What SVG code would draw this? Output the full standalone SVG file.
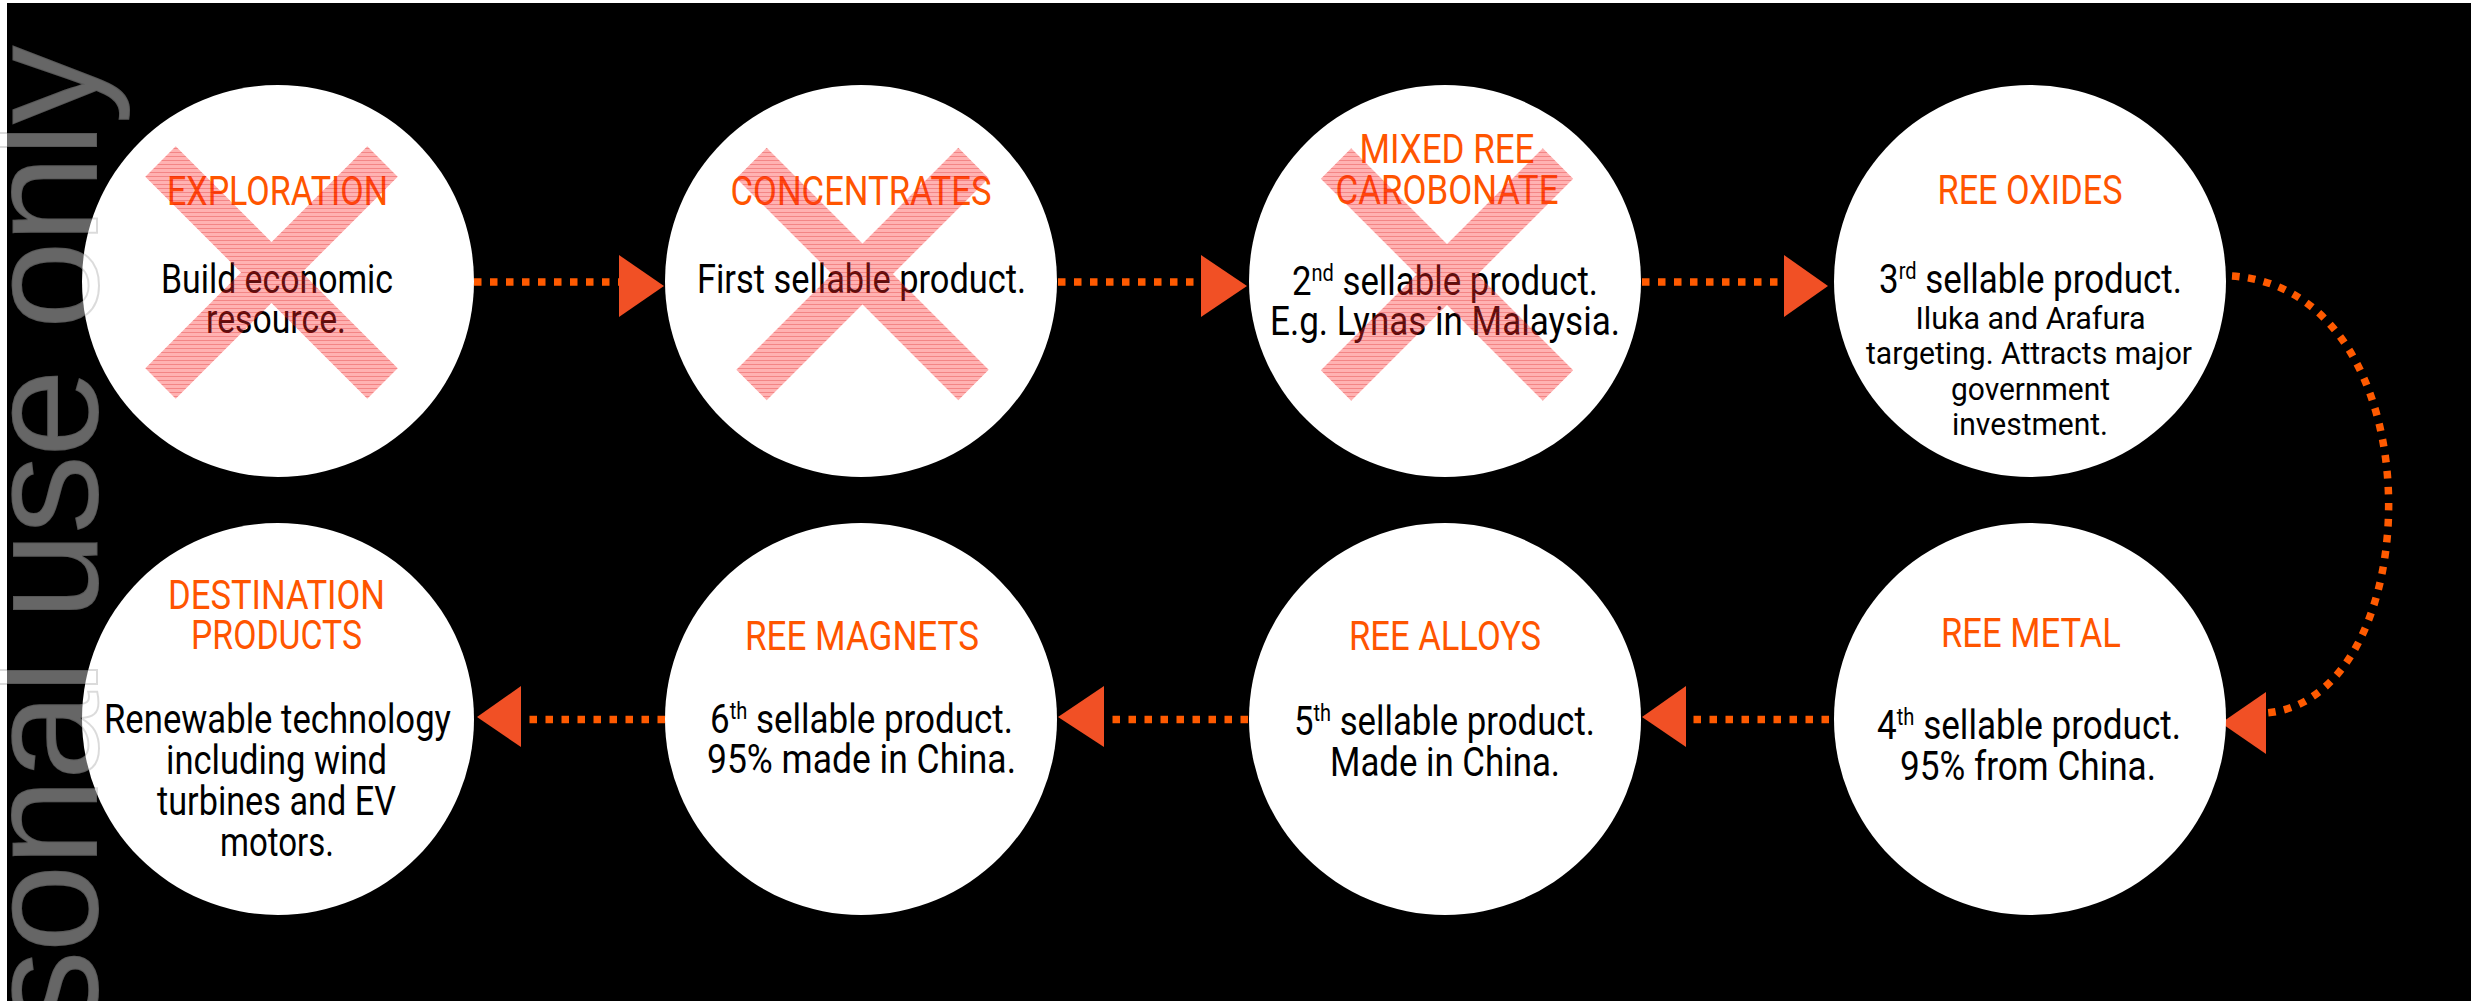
<svg xmlns="http://www.w3.org/2000/svg" width="2471" height="1001" viewBox="0 0 2471 1001">
<style>
.c{fill:#fff}
.t{font-family:Roboto,"Liberation Sans",sans-serif;font-weight:400;font-size:41px;fill:#FF5500;text-anchor:middle}
.b{font-family:Roboto,"Liberation Sans",sans-serif;font-weight:400;font-size:40px;fill:#000;text-anchor:middle}
.s{font-family:Roboto,"Liberation Sans",sans-serif;font-weight:400;font-size:32px;fill:#000;text-anchor:middle}
.sup{font-size:23px}
.x{fill:none;stroke:url(#hatch);stroke-width:43;stroke-linecap:butt}
.dl{fill:none;stroke:#FF5A00;stroke-width:7.5;stroke-dasharray:7.5 8.5}
.ah{fill:#F15025}
.wm{font-family:"Liberation Sans",Arial,sans-serif;font-size:160px;fill:#fff;fill-opacity:0.4;stroke:#000;stroke-opacity:0.14;stroke-width:2}
</style>
<defs>
<pattern id="hatch" width="8" height="4" patternUnits="userSpaceOnUse">
<rect width="8" height="4" fill="#ff2a2a" fill-opacity="0.36"/>
<rect width="8" height="1" fill="#d00000" fill-opacity="0.25"/>
</pattern>
</defs>
<rect x="0" y="0" width="2471" height="1001" fill="#fff"/>
<rect x="7" y="3" width="2464" height="998" fill="#000"/>

<g id="connectors">
<path class="dl" d="M474,282 H619"/>
<polygon class="ah" points="619,255 664,286 619,317"/>
<path class="dl" d="M1058,282 H1201"/>
<polygon class="ah" points="1201,255 1247,286 1201,317"/>
<path class="dl" d="M1642,282 H1784"/>
<polygon class="ah" points="1784,255 1828,286 1784,317"/>
<path class="dl" d="M2232,276 C2440,290 2430,700 2266,713"/>
<polygon class="ah" points="2266,692 2221,723 2266,754"/>
<path class="dl" d="M1829,719.5 H1686"/>
<polygon class="ah" points="1686,686 1642,717 1686,747"/>
<path class="dl" d="M1248,719.5 H1104"/>
<polygon class="ah" points="1104,686 1058,717 1104,747"/>
<path class="dl" d="M665,719.5 H521"/>
<polygon class="ah" points="521,686 477,717 521,747"/>
</g>

<g id="exploration">
<circle class="c" cx="278" cy="281" r="196"/>
<text class="t" x="277.5" y="205" textLength="221" lengthAdjust="spacingAndGlyphs">EXPLORATION</text>
<text class="b" x="277" y="293" textLength="232" lengthAdjust="spacingAndGlyphs">Build economic</text>
<text class="b" x="276" y="333" textLength="140" lengthAdjust="spacingAndGlyphs">resource.</text>
<path class="x" d="M160.5,161.5 L382.5,383.5 M382.5,161.5 L160.5,383.5"/>
</g>

<g id="concentrates">
<circle class="c" cx="861" cy="281" r="196"/>
<text class="t" x="861" y="205" textLength="261" lengthAdjust="spacingAndGlyphs">CONCENTRATES</text>
<text class="b" x="861.5" y="293" textLength="329" lengthAdjust="spacingAndGlyphs">First sellable product.</text>
<path class="x" d="M751.5,163 L973.5,385 M973.5,163 L751.5,385"/>
</g>

<g id="mixed-ree-carbonate">
<circle class="c" cx="1445" cy="281" r="196"/>
<text class="t" x="1447" y="163" textLength="175" lengthAdjust="spacingAndGlyphs">MIXED REE</text>
<text class="t" x="1447" y="204" textLength="223" lengthAdjust="spacingAndGlyphs">CAROBONATE</text>
<text class="b" x="1445" y="295" textLength="306" lengthAdjust="spacingAndGlyphs">2<tspan class="sup" dy="-14">nd</tspan><tspan dy="14"> sellable product.</tspan></text>
<text class="b" x="1445" y="335" textLength="350" lengthAdjust="spacingAndGlyphs">E.g. Lynas in Malaysia.</text>
<path class="x" d="M1336,163.5 L1558,385.5 M1558,163.5 L1336,385.5"/>
</g>

<g id="ree-oxides">
<circle class="c" cx="2030" cy="281" r="196"/>
<text class="t" x="2030" y="204" textLength="185" lengthAdjust="spacingAndGlyphs">REE OXIDES</text>
<text class="b" x="2030.5" y="293" textLength="303" lengthAdjust="spacingAndGlyphs">3<tspan class="sup" dy="-14">rd</tspan><tspan dy="14"> sellable product.</tspan></text>
<text class="s" x="2030.5" y="329" textLength="230" lengthAdjust="spacingAndGlyphs">Iluka and Arafura</text>
<text class="s" x="2029" y="364" textLength="326" lengthAdjust="spacingAndGlyphs">targeting. Attracts major</text>
<text class="s" x="2030.5" y="400" textLength="159" lengthAdjust="spacingAndGlyphs">government</text>
<text class="s" x="2030" y="435" textLength="156" lengthAdjust="spacingAndGlyphs">investment.</text>
</g>

<g id="ree-metal">
<circle class="c" cx="2030" cy="719" r="196"/>
<text class="t" x="2031" y="647" textLength="180" lengthAdjust="spacingAndGlyphs">REE METAL</text>
<text class="b" x="2029" y="739" textLength="304" lengthAdjust="spacingAndGlyphs">4<tspan class="sup" dy="-14">th</tspan><tspan dy="14"> sellable product.</tspan></text>
<text class="b" x="2028" y="780" textLength="256" lengthAdjust="spacingAndGlyphs">95% from China.</text>
</g>

<g id="ree-alloys">
<circle class="c" cx="1445" cy="719" r="196"/>
<text class="t" x="1445" y="650" textLength="192" lengthAdjust="spacingAndGlyphs">REE ALLOYS</text>
<text class="b" x="1444.5" y="735" textLength="301" lengthAdjust="spacingAndGlyphs">5<tspan class="sup" dy="-14">th</tspan><tspan dy="14"> sellable product.</tspan></text>
<text class="b" x="1445" y="776" textLength="230" lengthAdjust="spacingAndGlyphs">Made in China.</text>
</g>

<g id="ree-magnets">
<circle class="c" cx="861" cy="719" r="196"/>
<text class="t" x="862" y="650" textLength="234" lengthAdjust="spacingAndGlyphs">REE MAGNETS</text>
<text class="b" x="861.5" y="733" textLength="303" lengthAdjust="spacingAndGlyphs">6<tspan class="sup" dy="-14">th</tspan><tspan dy="14"> sellable product.</tspan></text>
<text class="b" x="861.5" y="773" textLength="309" lengthAdjust="spacingAndGlyphs">95% made in China.</text>
</g>

<g id="destination-products">
<circle class="c" cx="278" cy="719" r="196"/>
<text class="t" x="276.5" y="609" textLength="217" lengthAdjust="spacingAndGlyphs">DESTINATION</text>
<text class="t" x="276.5" y="649" textLength="171" lengthAdjust="spacingAndGlyphs">PRODUCTS</text>
<text class="b" x="277.5" y="733" textLength="347" lengthAdjust="spacingAndGlyphs">Renewable technology</text>
<text class="b" x="276.5" y="774" textLength="221" lengthAdjust="spacingAndGlyphs">including wind</text>
<text class="b" x="276.5" y="815" textLength="239" lengthAdjust="spacingAndGlyphs">turbines and EV</text>
<text class="b" x="277" y="856" textLength="114" lengthAdjust="spacingAndGlyphs">motors.</text>
</g>

<text class="wm" transform="translate(97,45) rotate(-90)" x="0" y="0" text-anchor="end" textLength="985">sonal use only</text>
</svg>
